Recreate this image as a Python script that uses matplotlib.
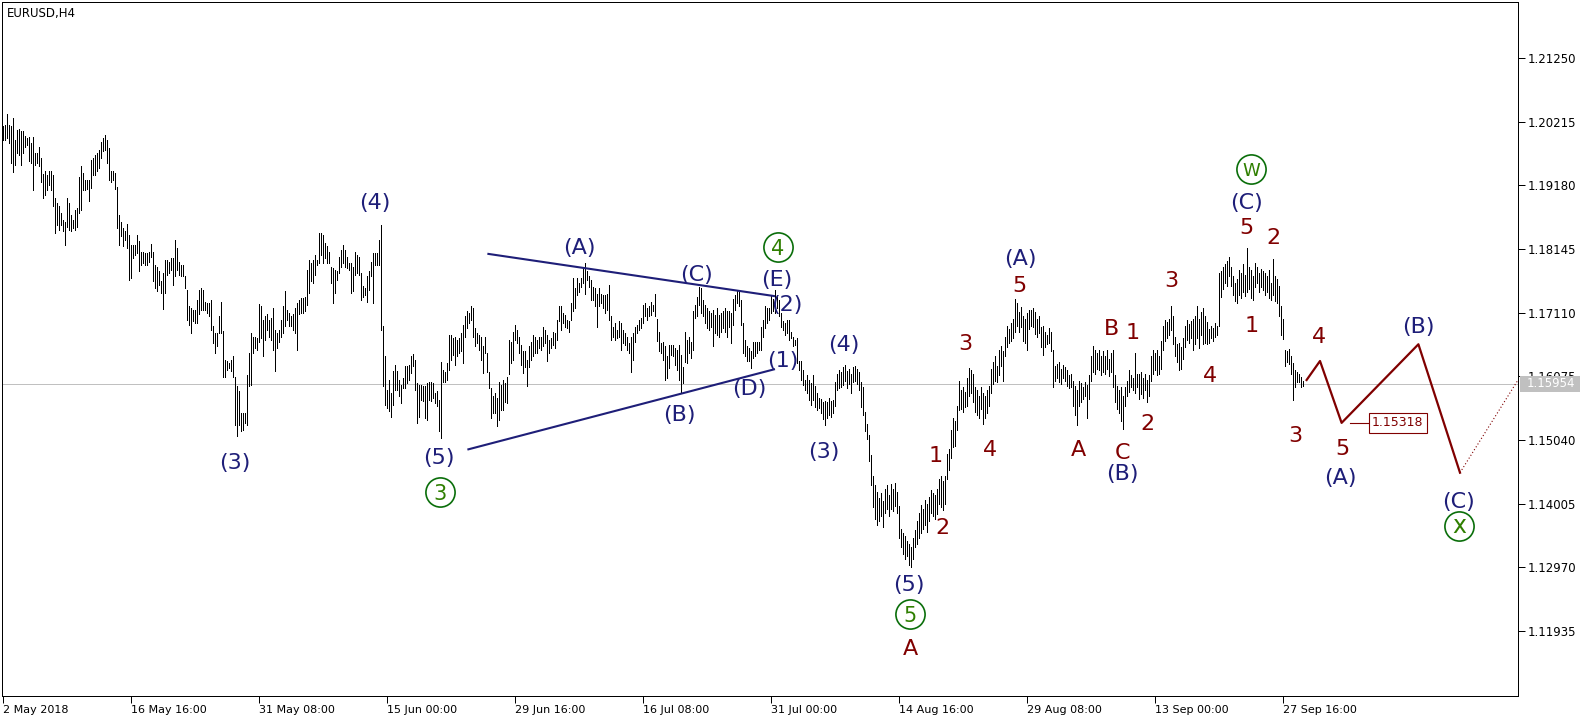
#!/usr/bin/env python3

import matplotlib
matplotlib.use('Agg')
import matplotlib.patches
import matplotlib.pyplot
import matplotlib.transforms
import numpy

# EURUSD H4 bars, high / low in points above 1.1000 (1 point = 0.0001)
barHigh = [
    1014, 1016, 1034, 1016, 1015, 1027, 992, 1008, 1009, 1006,
    1007, 998, 995, 997, 987, 996, 970, 970, 980, 962,
    937, 941, 935, 942, 941, 935, 897, 889, 885, 873,
    861, 859, 897, 889, 870, 862, 878, 881, 932, 949,
    938, 927, 927, 927, 959, 962, 968, 970, 976, 989,
    995, 1000, 992, 978, 941, 941, 938, 916, 870, 859,
    848, 843, 855, 838, 821, 821, 821, 838, 827, 810,
    810, 808, 808, 810, 823, 810, 789, 786, 778, 762,
    775, 797, 797, 794, 800, 800, 829, 816, 794, 789,
    789, 770, 748, 721, 718, 716, 716, 732, 748, 751,
    748, 729, 727, 727, 732, 689, 678, 678, 705, 729,
    681, 634, 632, 629, 634, 640, 607, 591, 583, 548,
    548, 548, 610, 645, 678, 672, 672, 670, 725, 721,
    699, 705, 708, 699, 702, 718, 683, 678, 683, 699,
    721, 746, 716, 710, 705, 708, 718, 727, 732, 735,
    735, 737, 781, 797, 792, 797, 805, 797, 840, 841,
    838, 824, 819, 810, 786, 783, 781, 778, 802, 813,
    821, 813, 802, 792, 792, 786, 810, 805, 802, 775,
    754, 751, 770, 778, 794, 808, 808, 808, 829, 854,
    689, 641, 586, 602, 580, 616, 626, 616, 602, 594,
    605, 624, 624, 626, 640, 643, 634, 597, 594, 594,
    591, 591, 597, 599, 599, 597, 580, 583, 569, 631,
    618, 615, 629, 675, 675, 669, 672, 667, 669, 678,
    691, 705, 713, 710, 721, 718, 686, 678, 675, 672,
    656, 672, 645, 615, 588, 575, 580, 572, 599, 594,
    602, 596, 607, 667, 664, 680, 691, 683, 672, 659,
    648, 648, 634, 656, 664, 675, 672, 667, 672, 672,
    688, 683, 675, 667, 669, 680, 678, 699, 721, 721,
    710, 707, 699, 697, 726, 767, 751, 767, 759, 767,
    783, 791, 778, 770, 764, 753, 751, 742, 751, 742,
    740, 740, 742, 756, 705, 688, 694, 683, 697, 694,
    683, 678, 672, 661, 672, 678, 688, 691, 699, 702,
    724, 726, 718, 721, 729, 724, 742, 700, 680, 661,
    664, 656, 640, 659, 659, 659, 653, 650, 659, 642,
    623, 680, 667, 672, 664, 713, 724, 737, 753, 751,
    732, 724, 718, 713, 710, 716, 707, 718, 707, 710,
    713, 718, 713, 713, 710, 734, 740, 748, 745, 732,
    694, 667, 656, 653, 648, 664, 664, 664, 664, 688,
    699, 721, 718, 718, 740, 734, 748, 740, 732, 710,
    697, 694, 699, 699, 680, 672, 667, 669, 632, 632,
    618, 602, 610, 602, 596, 610, 591, 580, 572, 570,
    566, 568, 565, 572, 567, 569, 598, 612, 618, 614,
    622, 626, 616, 620, 612, 622, 624, 619, 615, 599,
    590, 550, 530, 512, 480, 445, 430, 420, 410, 418,
    405, 425, 430, 415, 433, 425, 434, 420, 396, 360,
    352, 348, 340, 335, 330, 345, 358, 372, 385, 398,
    392, 407, 400, 412, 423, 418, 415, 425, 440, 445,
    438, 445, 482, 490, 520, 540, 535, 560, 600, 585,
    590, 582, 605, 621, 618, 612, 590, 585, 575, 590,
    580, 575, 585, 592, 620, 630, 640, 625, 650, 656,
    648, 672, 690, 685, 694, 700, 734, 726, 712, 720,
    705, 700, 710, 716, 715, 718, 712, 700, 705, 688,
    690, 680, 675, 686, 680, 650, 625, 628, 630, 620,
    626, 622, 618, 610, 612, 600, 592, 585, 600, 596,
    590, 598, 594, 610, 640, 656, 650, 645, 650, 640,
    648, 640, 650, 635, 645, 650, 610, 592, 585, 590,
    575, 590, 600, 618, 610, 605, 645, 612, 612, 615,
    605, 612, 602, 610, 640, 650, 645, 650, 640, 665,
    690, 699, 695, 700, 721, 705, 672, 660, 662, 655,
    670, 690, 699, 692, 698, 700, 705, 721, 700, 712,
    718, 705, 695, 685, 690, 686, 694, 690, 775, 778,
    785, 790, 795, 802, 785, 770, 760, 765, 780, 775,
    790, 772, 816, 785, 780, 770, 791, 785, 775, 782,
    778, 775, 770, 780, 760, 799, 770, 765, 755, 722,
    700, 650, 648, 652, 640, 629, 618, 615, 612, 606, 600,
]
barLow = [
    992, 992, 995, 987, 954, 939, 951, 970, 968, 951,
    970, 981, 984, 957, 954, 911, 951, 954, 949, 924,
    897, 903, 911, 919, 911, 884, 840, 854, 846, 854,
    843, 821, 851, 846, 843, 848, 846, 851, 873, 878,
    911, 911, 912, 892, 913, 935, 935, 941, 946, 962,
    973, 976, 954, 927, 924, 927, 912, 848, 821, 835,
    819, 829, 816, 764, 767, 800, 805, 808, 778, 789,
    792, 789, 789, 794, 802, 762, 751, 746, 756, 743,
    717, 743, 773, 775, 781, 756, 770, 781, 773, 770,
    770, 751, 699, 691, 678, 697, 694, 694, 708, 716,
    716, 716, 710, 705, 683, 662, 645, 656, 678, 678,
    607, 607, 618, 621, 616, 607, 529, 510, 529, 518,
    521, 532, 529, 591, 594, 645, 653, 651, 664, 670,
    640, 667, 683, 672, 667, 651, 616, 653, 664, 672,
    678, 689, 699, 689, 689, 683, 678, 651, 708, 710,
    710, 713, 724, 743, 762, 759, 773, 789, 792, 805,
    792, 800, 792, 792, 759, 727, 743, 764, 775, 786,
    792, 786, 783, 781, 743, 746, 773, 775, 773, 732,
    737, 740, 729, 748, 770, 727, 789, 789, 789, 683,
    591, 561, 556, 551, 542, 561, 586, 586, 575, 564,
    588, 588, 597, 602, 613, 624, 586, 532, 542, 569,
    567, 540, 537, 569, 567, 572, 564, 559, 518, 507,
    599, 599, 602, 618, 634, 642, 626, 640, 645, 648,
    629, 672, 686, 694, 699, 672, 656, 661, 650, 634,
    613, 645, 615, 588, 539, 548, 548, 526, 537, 553,
    553, 566, 564, 612, 629, 634, 667, 661, 645, 626,
    613, 623, 591, 623, 634, 640, 645, 645, 653, 650,
    656, 661, 632, 645, 653, 659, 653, 667, 697, 683,
    694, 688, 686, 680, 699, 713, 718, 740, 745, 753,
    759, 742, 764, 753, 732, 732, 721, 688, 721, 726,
    718, 710, 716, 699, 667, 672, 667, 669, 672, 650,
    661, 659, 650, 645, 615, 634, 664, 678, 683, 686,
    694, 705, 699, 705, 707, 713, 705, 665, 648, 645,
    634, 602, 604, 621, 642, 640, 626, 618, 602, 580,
    596, 631, 629, 645, 637, 650, 702, 705, 724, 710,
    705, 694, 686, 683, 688, 656, 678, 675, 672, 680,
    686, 680, 672, 688, 661, 691, 716, 726, 721, 691,
    645, 640, 632, 632, 621, 637, 640, 645, 650, 650,
    672, 686, 694, 699, 710, 713, 710, 718, 705, 688,
    683, 675, 678, 667, 669, 656, 659, 629, 618, 602,
    594, 585, 580, 569, 561, 569, 558, 553, 556, 548,
    538, 529, 540, 545, 541, 548, 560, 585, 588, 590,
    594, 600, 588, 595, 580, 598, 600, 595, 585, 558,
    545, 518, 505, 470, 430, 395, 375, 365, 372, 380,
    362, 385, 392, 380, 392, 388, 396, 385, 345, 330,
    318, 310, 315, 300, 298, 310, 330, 335, 345, 352,
    360, 365, 355, 372, 385, 380, 375, 383, 400, 395,
    390, 400, 440, 455, 475, 492, 495, 520, 553, 555,
    550, 558, 560, 575, 580, 565, 550, 545, 540, 555,
    530, 540, 548, 560, 580, 595, 600, 598, 610, 625,
    600, 640, 655, 662, 665, 670, 680, 690, 680, 688,
    665, 661, 650, 685, 690, 688, 676, 672, 678, 655,
    642, 655, 660, 662, 648, 590, 600, 605, 598, 595,
    605, 600, 592, 588, 590, 560, 545, 529, 560, 565,
    570, 575, 540, 570, 600, 615, 612, 620, 618, 610,
    615, 612, 620, 608, 615, 590, 565, 555, 548, 535,
    522, 560, 575, 582, 590, 585, 580, 590, 570, 578,
    572, 585, 565, 575, 600, 612, 618, 610, 612, 620,
    650, 665, 670, 675, 682, 660, 640, 630, 618, 620,
    635, 655, 667, 662, 670, 650, 660, 670, 653, 675,
    660, 662, 660, 662, 670, 665, 672, 675, 690, 737,
    750, 760, 755, 770, 755, 740, 730, 726, 740, 735,
    745, 738, 745, 750, 735, 732, 752, 760, 745, 752,
    748, 740, 745, 735, 732, 740, 730, 726, 705, 675,
    668, 625, 630, 628, 612, 569, 590, 598, 598, 590, 592,
]

dateTicks = [0, 64, 128, 192, 256, 320, 384, 448, 512, 576, 640]
dateLabels = ['2 May 2018', '16 May 16:00', '31 May 08:00', '15 Jun 00:00', '29 Jun 16:00',
              '16 Jul 08:00', '31 Jul 00:00', '14 Aug 16:00', '29 Aug 08:00', '13 Sep 00:00',
              '27 Sep 16:00']
priceTicks = [1.21250, 1.20215, 1.19180, 1.18145, 1.17110, 1.16075, 1.15040, 1.14005, 1.12970, 1.11935]
lastPrice = 1.15954
targetPrice = 1.15318

# triangle boundaries (bar, price)
triangleUpperBar = [242.7, 385.5]
triangleUpperPrice = [1.18065, 1.17380]
triangleLowerBar = [232.7, 385.5]
triangleLowerPrice = [1.14888, 1.16188]

# projected path
forecastBar = [651.8, 658.5, 669.3, 707.7, 728.5]
forecastPrice = [1.16015, 1.16324, 1.15318, 1.16596, 1.14508]
projectionBar = [728.5, 757.5]
projectionPrice = [1.14508, 1.16015]

# wave labels (bar, price, text)
navyWaves = [
    (186, 1.18925, '(4)'), (116, 1.14698, '(3)'), (218, 1.14780, '(5)'),
    (288, 1.18194, '(A)'), (347, 1.17755, '(C)'), (387, 1.17673, '(E)'),
    (392, 1.17267, '(2)'), (390, 1.16357, '(1)'), (373, 1.15901, '(D)'),
    (338, 1.15479, '(B)'), (420.5, 1.16617, '(4)'), (410.5, 1.14877, '(3)'),
    (453, 1.12715, '(5)'), (508.5, 1.18015, '(A)'), (559.5, 1.14520, '(B)'),
    (621.5, 1.18925, '(C)'), (668.5, 1.14455, '(A)'), (707.5, 1.16909, '(B)'),
    (727.5, 1.14064, '(C)'),
]
maroonWaves = [
    (453.5, 1.11675, 'A'), (466.5, 1.14812, '1'), (469.5, 1.13642, '2'),
    (481, 1.16633, '3'), (493.5, 1.14910, '4'), (508, 1.17576, '5'),
    (537.5, 1.14910, 'A'), (554.5, 1.16877, 'B'), (559.5, 1.14861, 'C'),
    (565, 1.16812, '1'), (572, 1.15332, '2'), (584, 1.17657, '3'),
    (603.5, 1.16113, '4'), (624.5, 1.16926, '1'), (621.5, 1.18519, '5'),
    (635, 1.18356, '2'), (646, 1.15137, '3'), (658, 1.16747, '4'),
    (669.5, 1.14926, '5'),
]
circledWaves = [
    (218.5, 1.14194, '3'), (387.5, 1.18177, '4'), (453.5, 1.12211, '5'),
    (624, 1.19445, 'W'), (728, 1.13642, 'x'),
]

NAVY = '#1e1e78'
MAROON = '#800000'
GREEN = '#0a6e0a'
GREY = '#c0c0c0'


def plotBars(ax):
    '''Plain high-low bars, one pixel wide.'''
    x = numpy.arange(len(barHigh))
    hi = 1.1 + numpy.array(barHigh) / 10000
    lo = 1.1 + numpy.array(barLow) / 10000
    ax.vlines(x, lo, hi, colors='black', linewidth=0.72, antialiased=False, zorder=3)


def plotWaves(ax):
    '''Triangle, forecast path and wave counts'''
    ax.plot(triangleUpperBar, triangleUpperPrice, color=NAVY, lw=1.5, zorder=4)
    ax.plot(triangleLowerBar, triangleLowerPrice, color=NAVY, lw=1.5, zorder=4)
    ax.plot(forecastBar, forecastPrice, color=MAROON, lw=1.6, zorder=4)
    ax.plot(projectionBar, projectionPrice, color=MAROON, lw=0.8, ls=(0, (1, 2)), zorder=4)
    ax.plot([673.5, 682.5], [targetPrice, targetPrice], color=MAROON, lw=0.8, zorder=4)
    ax.text(684.5, targetPrice, f'{targetPrice:.5f}', color=MAROON, fontsize=9, ha='left', va='center',
            bbox=dict(boxstyle='square,pad=0.25', fc='white', ec=MAROON, lw=0.8), zorder=5)
    for bar, price, label in navyWaves:
        ax.text(bar, price, label, color=NAVY, fontsize=16, ha='center', va='center_baseline', zorder=6)
    for bar, price, label in maroonWaves:
        ax.text(bar, price, label, color=MAROON, fontsize=16, ha='center', va='center_baseline', zorder=6)
    for bar, price, label in circledWaves:
        ax.plot(bar, price, 'o', ms=21, mfc='none', mec=GREEN, mew=1.2, zorder=6)
        size = {'W': 13, 'x': 17}.get(label, 15)
        va = 'center' if label == 'x' else 'center_baseline'
        ax.text(bar, price, label, color='#2f7f00', fontsize=size, ha='center', va=va, zorder=6)


def formatAxes(fig, ax):
    ax.set_xlim(-0.5, 757.5)
    ax.set_ylim(1.108777, 1.221604)
    for side in ax.spines.values():
        side.set_linewidth(0.72)
        side.set_color('black')
    ax.yaxis.tick_right()
    ax.set_yticks(priceTicks)
    ax.set_yticklabels([f'{p:.5f}' for p in priceTicks])
    ax.set_xticks(dateTicks)
    ax.set_xticklabels(dateLabels, ha='left')
    ax.tick_params(axis='y', direction='out', length=5, width=0.72, pad=2, labelsize=8.5)
    ax.tick_params(axis='x', direction='out', length=5, width=0.72, pad=1.5, labelsize=8)
    ax.axhline(lastPrice, color=GREY, lw=0.72, zorder=2)
    # current price tag on the scale, drawn over the 1.16075 label as in the terminal
    blend = matplotlib.transforms.blended_transform_factory(ax.transAxes, ax.transData)
    ax.add_patch(matplotlib.patches.Rectangle((1.0015, lastPrice - 0.0013), 60 / 1516, 0.0026,
                                              transform=blend, fc=GREY, ec='none', clip_on=False, zorder=10))
    ax.text(1.0055, lastPrice, f'{lastPrice:.5f}', transform=blend, color='white', fontsize=8.5,
            ha='left', va='center', clip_on=False, zorder=11)
    fig.text(7 / 1596, 1 - 14 / 723, 'EURUSD,H4', fontsize=8.5, ha='left', va='center')


def main():
    matplotlib.pyplot.rcParams['font.family'] = 'DejaVu Sans'
    assert len(barHigh) == len(barLow)
    fig = matplotlib.pyplot.figure(figsize=(15.96, 7.23), dpi=100)
    ax = fig.add_axes([2 / 1596, 27 / 723, 1516 / 1596, 694 / 723])
    plotBars(ax)
    plotWaves(ax)
    formatAxes(fig, ax)
    fig.savefig('out.png', dpi=100, facecolor='white')
    matplotlib.pyplot.close('all')


if __name__ == "__main__":
    main()
